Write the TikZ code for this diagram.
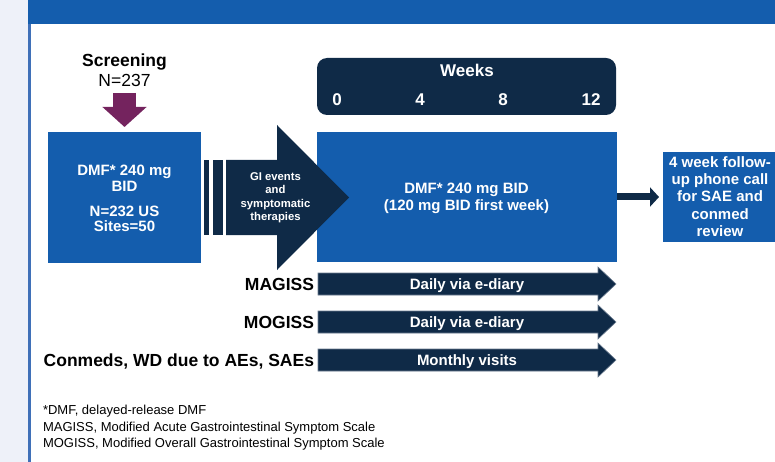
\documentclass[tikz,border=0pt]{standalone}
\usepackage{fontspec}
\setmainfont{Liberation Sans}
\usetikzlibrary{arrows.meta}
\definecolor{dblue}{HTML}{145DAD}
\definecolor{navy}{HTML}{0F2A47}
\definecolor{plum}{HTML}{74235E}
\definecolor{pale}{HTML}{EEF1F9}
\definecolor{edgeblue}{HTML}{3F70B8}
\definecolor{rimgray}{HTML}{6A7A8E}
\begin{document}
\begin{tikzpicture}[x=1pt,y=-1pt,
  every node/.style={inner sep=0pt, outer sep=0pt},
  blk/.style={anchor=north west},
  lbl/.style={anchor=base, font=\bfseries\fontsize{17.5}{17.5}\selectfont},
  rlbl/.style={anchor=base east, font=\bfseries\fontsize{17.5}{17.5}\selectfont},
  wk/.style={anchor=base, text=white, font=\bfseries\fontsize{17}{17}\selectfont},
  wtxt/.style={anchor=base, text=white, font=\bfseries\fontsize{15}{15}\selectfont},
  wsmall/.style={anchor=base, text=white, font=\bfseries\fontsize{11.3}{11.3}\selectfont},
  note/.style={anchor=base west, font=\fontsize{13}{13}\selectfont},
  rowarrow/.style={fill=navy, draw=rimgray, line width=0.6pt}
]
\useasboundingbox (0,0) rectangle (775,462);
% frame
\fill[pale] (0,0) rectangle (28,462);
\fill[dblue] (28,0) rectangle (775,24);
\fill[edgeblue] (28,24) rectangle (31,462);

% screening
\node[lbl] (scr) at (124.5,66.8) {Screening};
\node[anchor=base, font=\fontsize{17.5}{17.5}\selectfont] (n237) at (124.5,86.5) {N=237};

% left box
\node[blk, fill=dblue, minimum width=153, minimum height=131] (lbox) at (48,132) {};
\node[wtxt] (l1) at (124.5,175.4) {DMF* 240 mg};
\node[wtxt] (l2) at (124.5,191.4) {BID};
\node[wtxt] (l3) at (124.5,216.4) {N=232 US};
\node[wtxt] (l4) at (124.5,231.4) {Sites=50};

% purple arrow
\coordinate (pstart) at (124.5,93);
\draw[plum, line width=23pt, -{Triangle[length=20pt,width=43pt]}, shorten >=5pt] (pstart) -- (lbox.north);

% bars
\node[blk, fill=navy, minimum width=5, minimum height=75] (bar1) at (204,160) {};
\node[blk, fill=navy, minimum width=10, minimum height=75] (bar2) at (213,160) {};

% weeks box
\node[blk, fill=navy, rounded corners=10pt, minimum width=299, minimum height=57] (weeks) at (317,58) {};
\node[wk] (wkl) at (467,77) {Weeks};
\node[wk] (w0) at (337,106) {0};
\node[wk] (w4) at (420,106) {4};
\node[wk] (w8) at (503,106) {8};
\node[wk] (w12) at (591,106) {12};

% main box
\node[blk, fill=dblue, minimum width=300, minimum height=130] (mbox) at (317,132) {};
\node[wtxt] (m1) at (466.5,193.4) {DMF* 240 mg BID};
\node[wtxt] (m2) at (466.5,210.4) {(120 mg BID first week)};

% GI arrow (drawn over the main box)
\fill[navy] (226,160) -- (277,160) -- (277,125) -- (349,197.5) -- (277,270) -- (277,235) -- (226,235) -- cycle;
\node[wsmall] (g1) at (275.5,180.5) {GI events};
\node[wsmall] (g2) at (275.5,193.8) {and};
\node[wsmall] (g3) at (275.5,207.1) {symptomatic};
\node[wsmall] (g4) at (275.5,220.4) {therapies};

% follow-up box
\node[blk, fill=dblue, minimum width=114, minimum height=90] (fu) at (663,152) {};
\node[wtxt] (f1) at (720,168) {4 week follow-};
\node[wtxt] (f2) at (720,185) {up phone call};
\node[wtxt] (f3) at (720,202) {for SAE and};
\node[wtxt] (f4) at (720,219) {conmed};
\node[wtxt] (f5) at (720,236) {review};
\draw[navy, line width=7pt, -{Triangle[length=9pt,width=19pt]}, shorten >=4pt] (mbox.east) -- (fu.west |- mbox.east);

% row arrows
\foreach \cy/\nm/\lab/\txt in {284/ra/MAGISS/Daily via e-diary, 322/rb/MOGISS/Daily via e-diary, 360/rc/{Conmeds, WD due to AEs, SAEs}/Monthly visits}{
  \draw[rowarrow] (318,\cy-11) -- (598,\cy-11) -- (598,\cy-17) -- (616,\cy) -- (598,\cy+17) -- (598,\cy+11) -- (318,\cy+11) -- cycle;
  \node[wtxt] (\nm t) at (467,\cy+5.3) {\txt};
  \node[rlbl] (\nm l) at (314,\cy+6.2) {\lab};
}

% footnotes
\node[note] (fn1) at (43,414.5) {*DMF, delayed-release DMF};
\node[note] (fn2) at (43,431) {MAGISS, Modified Acute Gastrointestinal Symptom Scale};
\node[note] (fn3) at (43,447.5) {MOGISS, Modified Overall Gastrointestinal Symptom Scale};
\end{tikzpicture}
\end{document}
